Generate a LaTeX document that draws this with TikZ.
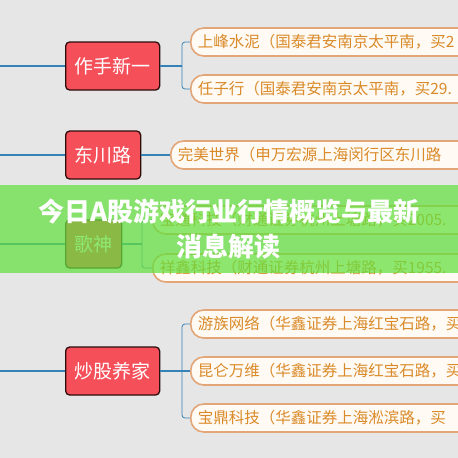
\documentclass[tikz,border=0pt]{standalone}
\usepackage{fontspec}
\setmainfont{Noto Sans CJK SC}
\usepackage{xcolor}
\usetikzlibrary{positioning}

\definecolor{bgray}{RGB}{230,230,230}
\definecolor{boxred}{RGB}{245,80,90}
\definecolor{boxedge}{RGB}{45,12,12}
\definecolor{linkblue}{RGB}{52,130,182}
\definecolor{leafedge}{RGB}{226,166,120}
\definecolor{leaffill}{RGB}{255,250,244}
\definecolor{leaftext}{RGB}{218,138,40}
\definecolor{bannergreen}{RGB}{99,225,63}

\begin{document}
\begin{tikzpicture}[
        x=1pt, y=-1pt,
        topic/.style={rectangle, draw=boxedge, line width=1.3pt, fill=boxred, rounded corners=4pt,
            minimum height=48pt, inner xsep=9pt, text=white, font=\fontsize{19}{21}\selectfont},
        leaf/.style={rectangle, draw=leafedge, line width=1.6pt, fill=leaffill, rounded corners=13pt,
            minimum height=28pt, text width=330pt, align=left, inner xsep=7pt, anchor=west,
            text=leaftext, font=\fontsize{15.5}{17}\selectfont},
        mainline/.style={draw=linkblue, line width=1.4pt},
        branch/.style={draw=linkblue, line width=0.8pt, rounded corners=3pt}
    ]
        \fill[bgray] (0,0) rectangle (458,458);
        \clip (0,0) rectangle (458,458);

        % topics on the left
        \node[topic, anchor=west] (t1) at (65,66) {作手新一};
        \node[topic, anchor=west] (t2) at (65,155) {东川路};
        \node[topic, anchor=west] (t3) at (65,244) {歌神};
        \node[topic, anchor=west] (t4) at (65,371) {炒股养家};

        % leaves
        \node[leaf] (l1) at (190,42) {上峰水泥（国泰君安南京太平南，买2};
        \node[leaf] (l2) at (190,89) {任子行（国泰君安南京太平南，买29.};
        \node[leaf] (l3) at (170,155) {完美世界（申万宏源上海闵行区东川路};
        \node[leaf] (l4) at (152,220) {宝通科技（财通证券杭州上塘路，买2005.};
        \node[leaf] (l5) at (152,268) {祥鑫科技（财通证券杭州上塘路，买1955.};
        \node[leaf] (l6) at (190,324) {游族网络（华鑫证券上海红宝石路，买};
        \node[leaf] (l7) at (190,371) {昆仑万维（华鑫证券上海红宝石路，买};
        \node[leaf] (l8) at (190,418) {宝鼎科技（华鑫证券上海淞滨路，买};

        % lines from the left edge
        \coordinate (s1) at (0,66);
        \coordinate (s2) at (0,155);
        \coordinate (s3) at (0,244);
        \coordinate (s4) at (0,371);
        \draw[mainline] (s1) -- (t1);
        \draw[mainline] (s2) -- (t2);
        \draw[mainline] (s3) -- (t3);
        \draw[mainline] (s4) -- (t4);

        % branches
        \coordinate (j1) at (182,66);
        \coordinate (j3) at (142,244);
        \coordinate (j4) at (182,371);
        \draw[mainline] (t1.east) -- (j1);
        \draw[branch] (j1) |- (l1.west);
        \draw[branch] (j1) |- (l2.west);
        \draw[mainline] (t2.east) -- (l3.west);
        \draw[mainline] (t3.east) -- (j3);
        \draw[branch] (j3) |- (l4.west);
        \draw[branch] (j3) |- (l5.west);
        \draw[mainline] (t4.east) -- (l7.west);
        \draw[branch] (j4) |- (l6.west);
        \draw[branch] (j4) |- (l8.west);

        % banner over the middle
        \fill[bannergreen, fill opacity=0.73] (0,185) rectangle (458,273);
        \node[text=white, align=center, font=\fontsize{26}{35}\selectfont\bfseries] (title) at (229,229)
            {今日A股游戏行业行情概览与最新\\消息解读};
    \end{tikzpicture}
\end{document}
